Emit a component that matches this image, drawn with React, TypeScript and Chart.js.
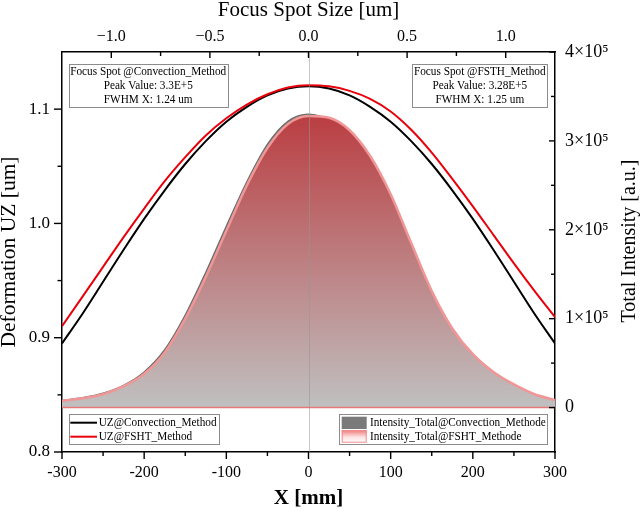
import React, { useEffect, useRef } from "react";
import { Chart, registerables } from "chart.js";

Chart.register(...registerables);

// ---------------- data ----------------
const xMm = [-300, -275, -250, -225, -200, -175, -150, -125, -100, -75, -50, -25, 0, 25, 50, 75, 100, 125, 150, 175, 200, 225, 250, 275, 300];
const uzConvection = [0.895, 0.921, 0.949, 0.977, 1.004, 1.029, 1.052, 1.072, 1.089, 1.102, 1.112, 1.118, 1.12, 1.118, 1.112, 1.102, 1.089, 1.072, 1.052, 1.029, 1.004, 0.977, 0.949, 0.921, 0.895];
const uzFSHT = [0.91, 0.936, 0.962, 0.988, 1.013, 1.037, 1.058, 1.077, 1.092, 1.104, 1.113, 1.119, 1.121, 1.12, 1.116, 1.109, 1.098, 1.082, 1.062, 1.039, 1.015, 0.99, 0.965, 0.941, 0.918];
const intensityConvection = [8000, 11000, 16000, 25000, 40000, 65000, 104000, 152000, 204000, 254000, 296000, 322000, 330000, 322000, 296000, 254000, 204000, 152000, 104000, 65000, 40000, 25000, 16000, 11000, 8000];
const intensityFSHT = [7500, 10500, 15000, 24000, 38000, 62000, 100000, 147000, 199000, 250000, 292000, 319000, 328000, 326000, 312000, 283000, 240000, 185000, 131000, 89000, 60000, 40000, 26000, 15000, 8500];
const baselineX = [-300, 300];
const baselineIntensity = [0, 0];
const centerLineX = 0;

const uzLabels = ["UZ@Convection_Method", "UZ@FSHT_Method"];
const intensityLabels = ["Intensity_Total@Convection_Methode", "Intensity_Total@FSHT_Methode"];
const noteConvection = ["Focus Spot @Convection_Method", "Peak Value: 3.3E+5", "FWHM X: 1.24 um"];
const noteFSHT = ["Focus Spot @FSTH_Method", "Peak Value: 3.28E+5", "FWHM X: 1.25 um"];

const bottomTitle = "X [mm]";
const topTitle = "Focus Spot Size [um]";
const leftTitle = "Deformation UZ [um]";
const rightTitle = "Total Intensity [a.u.]";

const bottomTicks = [-300, -200, -100, 0, 100, 200, 300];
const bottomTickLabels = ["-300", "-200", "-100", "0", "100", "200", "300"];
const bottomMinorTicks = [-250, -150, -50, 50, 150, 250];
const topTicks = [-1, -0.5, 0, 0.5, 1];
const topTickLabels = ["\u22121.0", "\u22120.5", "0.0", "0.5", "1.0"];
const topMinorTicks = [-0.75, -0.25, 0.25, 0.75];
const leftTicks = [0.8, 0.9, 1.0, 1.1];
const leftTickLabels = ["0.8", "0.9", "1.0", "1.1"];
const leftMinorTicks = [0.85, 0.95, 1.05];
const rightTicks = [0, 100000, 200000, 300000, 400000];
const rightTickLabels = ["0", "1\u00d710\u2075", "2\u00d710\u2075", "3\u00d710\u2075", "4\u00d710\u2075"];
const rightMinorTicks = [50000, 150000, 250000, 350000];

// ---------------- styling ----------------
const FONT = "Liberation Serif";
Chart.defaults.font.family = FONT;
Chart.defaults.color = "#000";

const tickSpecs = [
  { id: "x", major: bottomTicks, minor: bottomMinorTicks, edge: "bottom", dir: 1, majorLen: 7, minorLen: 4 },
  { id: "xTop", major: topTicks, minor: topMinorTicks, edge: "top", dir: 1, majorLen: 6, minorLen: 4 },
  { id: "y", major: leftTicks, minor: leftMinorTicks, edge: "left", dir: -1, majorLen: 8, minorLen: 4.5 },
  { id: "yRight", major: rightTicks, minor: rightMinorTicks, edge: "right", dir: -1, majorLen: 6, minorLen: 4 },
];

const tickMarks = {
  id: "tickMarks",
  afterDatasetsDraw(chart: any) {
    const { ctx, chartArea: a } = chart;
    const px = chart.scales.x.getPixelForValue(centerLineX);
    ctx.save();
    ctx.strokeStyle = "rgba(150,150,150,0.55)";
    ctx.lineWidth = 1;
    ctx.beginPath();
    ctx.moveTo(Math.round(px) + 0.5, a.top);
    ctx.lineTo(Math.round(px) + 0.5, a.bottom);
    ctx.stroke();
    ctx.restore();
  },
  afterDraw(chart: any) {
    const { ctx, chartArea: a } = chart;
    ctx.save();
    ctx.strokeStyle = "#000";
    ctx.lineWidth = 1.4;
    for (const s of tickSpecs) {
      const scale = chart.scales[s.id];
      const draw = (v: number, len: number) => {
        const p = scale.getPixelForValue(v);
        ctx.beginPath();
        if (s.edge === "bottom" || s.edge === "top") {
          const y0 = s.edge === "bottom" ? a.bottom : a.top;
          ctx.moveTo(p, y0);
          ctx.lineTo(p, y0 + s.dir * len);
        } else {
          const x0 = s.edge === "left" ? a.left : a.right;
          ctx.moveTo(x0, p);
          ctx.lineTo(x0 + s.dir * len, p);
        }
        ctx.stroke();
      };
      s.major.forEach((v) => draw(v, s.majorLen));
      s.minor.forEach((v) => draw(v, s.minorLen));
    }
    ctx.restore();
  },
};

function squishText(ctx: CanvasRenderingContext2D, text: string, x: number, y: number, align: CanvasTextAlign) {
  ctx.save();
  ctx.translate(x, y);
  ctx.scale(0.9, 1);
  ctx.textAlign = align;
  ctx.textBaseline = "middle";
  ctx.fillText(text, 0, 0);
  ctx.restore();
}

const overlay = {
  id: "overlay",
  afterDraw(chart: any) {
    const { ctx, chartArea: a } = chart;
    ctx.save();

    // right axis title (reads bottom to top)
    ctx.save();
    ctx.translate(a.right + 74.5, (a.top + a.bottom) / 2 - 11);
    ctx.rotate(-Math.PI / 2);
    ctx.font = `20px "${FONT}"`;
    ctx.fillStyle = "#000";
    ctx.textAlign = "center";
    ctx.textBaseline = "middle";
    ctx.fillText(rightTitle, 0, 0);
    ctx.restore();

    ctx.font = `12.5px "${FONT}"`;
    ctx.lineWidth = 1;

    // annotation boxes
    const notes = [
      { lines: noteConvection, left: a.left + 6.7, width: 159 },
      { lines: noteFSHT, left: a.right - 7.7 - 135, width: 135 },
    ];
    for (const n of notes) {
      const top = a.top + 11.7;
      const h = 42.6;
      ctx.fillStyle = "#fff";
      ctx.fillRect(n.left, top, n.width, h);
      ctx.strokeStyle = "#8c8c8c";
      ctx.strokeRect(Math.round(n.left) + 0.5, Math.round(top) + 0.5, Math.round(n.width), Math.round(h));
      ctx.fillStyle = "#000";
      n.lines.forEach((t, i) => squishText(ctx, t, n.left + n.width / 2, top + 7.8 + i * 14, "center"));
    }

    // legend 1 (lines)
    const l1 = { left: a.left + 6.7, top: a.bottom - 37.7, w: 150, h: 30 };
    ctx.fillStyle = "#fff";
    ctx.fillRect(l1.left, l1.top, l1.w, l1.h);
    ctx.strokeStyle = "#8c8c8c";
    ctx.strokeRect(Math.round(l1.left) + 0.5, Math.round(l1.top) + 0.5, l1.w, l1.h);
    const lineColors = ["#000000", "#e8000b"];
    uzLabels.forEach((t, i) => {
      const y = l1.top + 8.4 + i * 14;
      ctx.strokeStyle = lineColors[i];
      ctx.lineWidth = 2;
      ctx.beginPath();
      ctx.moveTo(l1.left + 1.6, y);
      ctx.lineTo(l1.left + 28.3, y);
      ctx.stroke();
      ctx.fillStyle = "#000";
      squishText(ctx, t, l1.left + 30, y, "left");
    });

    // legend 2 (areas)
    ctx.lineWidth = 1;
    const l2 = { left: a.right - 215.7, top: a.bottom - 37.7, w: 208, h: 30 };
    ctx.fillStyle = "#fff";
    ctx.fillRect(l2.left, l2.top, l2.w, l2.h);
    ctx.strokeStyle = "#8c8c8c";
    ctx.strokeRect(Math.round(l2.left) + 0.5, Math.round(l2.top) + 0.5, l2.w, l2.h);
    const sx = l2.left + 2.4;
    ctx.fillStyle = "rgb(122,122,122)";
    ctx.fillRect(sx, l2.top + 2.4, 25, 12.3);
    const sy2 = l2.top + 15.7;
    const g = ctx.createLinearGradient(0, sy2, 0, sy2 + 12.7);
    g.addColorStop(0, "rgb(238,120,120)");
    g.addColorStop(0.55, "rgb(252,225,225)");
    g.addColorStop(1, "rgb(255,255,255)");
    ctx.fillStyle = g;
    ctx.fillRect(sx, sy2, 25, 12.7);
    ctx.strokeStyle = "rgb(240,140,140)";
    ctx.strokeRect(sx + 0.5, sy2 + 0.5, 24, 11.7);
    ctx.fillStyle = "#000";
    intensityLabels.forEach((t, i) => squishText(ctx, t, l2.left + 30.7, l2.top + 8.4 + i * 14, "left"));

    ctx.restore();
  },
};

const hiddenGrid = { display: true, drawOnChartArea: false, drawTicks: false, color: "rgba(0,0,0,0)" };

export default function App() {
  const ref = useRef<HTMLCanvasElement | null>(null);

  useEffect(() => {
    if (!ref.current) return;
    const peak = Math.max(...intensityFSHT);
    const chart = new Chart(ref.current, {
      type: "line",
      data: {
        datasets: [
          {
            label: uzLabels[1],
            data: xMm.map((x, i) => ({ x, y: uzFSHT[i] })),
            yAxisID: "y",
            borderColor: "#e8000b",
            borderWidth: 2,
            pointRadius: 0,
            fill: false,
            cubicInterpolationMode: "monotone",
            order: 0,
          },
          {
            label: uzLabels[0],
            data: xMm.map((x, i) => ({ x, y: uzConvection[i] })),
            yAxisID: "y",
            borderColor: "#000",
            borderWidth: 2,
            pointRadius: 0,
            fill: false,
            cubicInterpolationMode: "monotone",
            order: 1,
          },
          {
            label: "baseline",
            data: baselineX.map((x, i) => ({ x, y: baselineIntensity[i] })),
            yAxisID: "yRight",
            borderColor: "rgb(232,120,120)",
            borderWidth: 1.5,
            pointRadius: 0,
            fill: false,
            order: 2,
          },
          {
            label: intensityLabels[1],
            data: xMm.map((x, i) => ({ x, y: intensityFSHT[i] })),
            yAxisID: "yRight",
            borderColor: "rgb(240,150,150)",
            borderWidth: 2.5,
            pointRadius: 0,
            cubicInterpolationMode: "monotone",
            fill: "origin",
            backgroundColor: (c: any) => {
              const ch = c.chart;
              const s = ch.scales && ch.scales.yRight;
              if (!ch.chartArea || !s) return "rgb(190,120,120)";
              const gr = ch.ctx.createLinearGradient(0, s.getPixelForValue(peak), 0, s.getPixelForValue(0));
              gr.addColorStop(0, "rgb(186,62,66)");
              gr.addColorStop(1, "rgb(192,192,192)");
              return gr;
            },
            order: 3,
          },
          {
            label: intensityLabels[0],
            data: xMm.map((x, i) => ({ x, y: intensityConvection[i] })),
            yAxisID: "yRight",
            borderColor: "rgb(105,110,110)",
            borderWidth: 1.5,
            pointRadius: 0,
            cubicInterpolationMode: "monotone",
            fill: "origin",
            backgroundColor: "rgb(118,122,122)",
            order: 4,
          },
        ],
      },
      options: {
        responsive: false,
        animation: false,
        events: [],
        layout: { padding: 0 },
        plugins: {
          legend: { display: false },
          tooltip: { enabled: false },
        },
        scales: {
          x: {
            type: "linear",
            position: "bottom",
            min: -300,
            max: 300,
            afterBuildTicks: (s: any) => {
              s.ticks = bottomTicks.map((v) => ({ value: v }));
            },
            afterFit: (s: any) => {
              s.height = 59;
            },
            ticks: {
              autoSkip: false,
              maxRotation: 0,
              padding: 11,
              font: { size: 16 },
              color: "#000",
              callback: (_v: any, i: number) => bottomTickLabels[i],
            },
            grid: hiddenGrid,
            border: { display: true, color: "#000", width: 1.5 },
            title: {
              display: true,
              text: bottomTitle,
              font: { size: 21, weight: "bold", lineHeight: 1 },
              padding: { top: 0, bottom: 1.5 },
              color: "#000",
            },
          },
          xTop: {
            type: "linear",
            axis: "x",
            position: "top",
            min: -1.25,
            max: 1.25,
            afterBuildTicks: (s: any) => {
              s.ticks = topTicks.map((v) => ({ value: v }));
            },
            afterFit: (s: any) => {
              s.height = 52;
            },
            ticks: {
              autoSkip: false,
              maxRotation: 0,
              padding: 6,
              font: { size: 16 },
              color: "#000",
              callback: (_v: any, i: number) => topTickLabels[i],
            },
            grid: hiddenGrid,
            border: { display: true, color: "#000", width: 1.5 },
            title: {
              display: true,
              text: topTitle,
              font: { size: 21, lineHeight: 1 },
              padding: { top: 0, bottom: 0 },
              color: "#000",
            },
          },
          y: {
            type: "linear",
            position: "left",
            min: 0.8,
            max: 1.15,
            afterBuildTicks: (s: any) => {
              s.ticks = leftTicks.map((v) => ({ value: v }));
            },
            afterFit: (s: any) => {
              s.width = 62;
            },
            ticks: {
              autoSkip: false,
              padding: 12,
              font: { size: 17 },
              color: "#000",
              callback: (_v: any, i: number) => leftTickLabels[i],
            },
            grid: hiddenGrid,
            border: { display: true, color: "#000", width: 1.5 },
            title: {
              display: true,
              text: leftTitle,
              font: { size: 21.5, lineHeight: 1 },
              padding: { top: -1.75, bottom: 0 },
              color: "#000",
            },
          },
          yRight: {
            type: "linear",
            position: "right",
            min: -50000,
            max: 400000,
            afterBuildTicks: (s: any) => {
              s.ticks = rightTicks.map((v) => ({ value: v }));
            },
            afterFit: (s: any) => {
              s.width = 85;
            },
            ticks: {
              autoSkip: false,
              padding: 10,
              font: { size: 18 },
              color: "#000",
              callback: (_v: any, i: number) => rightTickLabels[i],
            },
            grid: hiddenGrid,
            border: { display: true, color: "#000", width: 1.5 },
          },
        },
      } as any,
      plugins: [tickMarks, overlay],
    });
    return () => chart.destroy();
  }, []);

  return (
    <div style={{ position: "absolute", left: 0, top: 0, width: 640, height: 511, background: "#fff" }}>
      <canvas ref={ref} width={640} height={511} style={{ display: "block", width: 640, height: 511 }} />
    </div>
  );
}
